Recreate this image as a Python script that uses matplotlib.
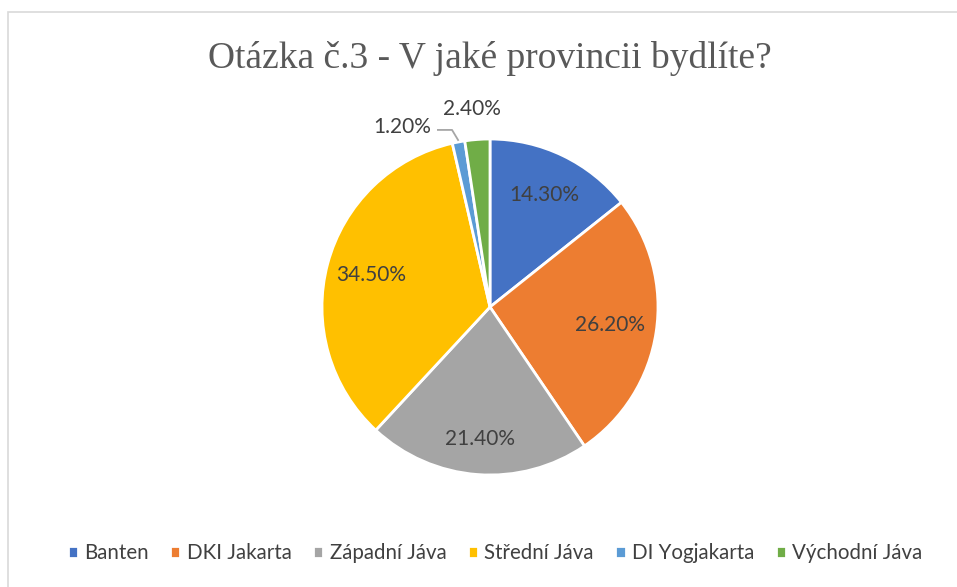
import matplotlib.pyplot as plt
from matplotlib.patches import Rectangle
import numpy as np

# Data
provincie = ["Banten", "DKI Jakarta", "Západní Jáva", "Střední Jáva", "DI Yogjakarta", "Východní Jáva"]
podily = [14.3, 26.2, 21.4, 34.5, 1.2, 2.4]
barvy = ["#4472C4", "#ED7D31", "#A5A5A5", "#FFC000", "#5B9BD5", "#70AD47"]
titulek = "Otázka č.3 - V jaké provincii bydlíte?"

W, H = 957, 587
fig = plt.figure(figsize=(W / 100, H / 100), dpi=100)

# light frame like the Excel chart area
fig.patches.append(Rectangle((8 / W, -0.1), 1.2, 1 - 12 / H + 0.1, transform=fig.transFigure,
                             fill=False, edgecolor="#D9D9D9", linewidth=1.2))

cx, cy, r = 490, 307, 168
ax = fig.add_axes([(cx - r) / W, 1 - (cy + r) / H, 2 * r / W, 2 * r / H])

wedges, _ = ax.pie(podily, colors=barvy, startangle=90, counterclock=False,
                   wedgeprops=dict(edgecolor="white", linewidth=2))
ax.set_xlim(-1, 1)
ax.set_ylim(-1, 1)

font = ["Lato", "DejaVu Sans"]
lab_col = "#404040"
fs = 15

# labels inside the big slices
vzdal = [0.74, 0.72, 0.79, 0.735]
for w, p, d in zip(wedges[:4], podily[:4], vzdal):
    a = np.deg2rad((w.theta1 + w.theta2) / 2)
    ax.text(d * np.cos(a), d * np.sin(a), f"{p:.2f}%", ha="center", va="center",
            fontsize=fs, color=lab_col, family=font)

# small slices: labels outside, leader line for the smallest one
ax.text(-0.52, 1.07, f"{podily[4]:.2f}%", ha="center", va="center",
        fontsize=fs, color=lab_col, family=font)
ax.plot([-0.31, -0.226, -0.19], [1.054, 1.054, 0.994], color="#A6A6A6", lw=1.3,
        clip_on=False)
ax.text(-0.11, 1.18, f"{podily[5]:.2f}%", ha="center", va="center",
        fontsize=fs, color=lab_col, family=font)

fig.text(490 / W, 1 - 58 / H, titulek, ha="center", va="center", fontsize=27,
         color="#595959", family="Liberation Serif")

fig.legend(wedges, provincie, loc="center", bbox_to_anchor=(495 / W, 1 - 553 / H), ncol=6,
           frameon=False, handlelength=0.5, handleheight=0.5, handletextpad=0.3,
           columnspacing=1.05, prop=dict(family=font, size=14.8), labelcolor=lab_col)

fig.savefig("out.png", dpi=100)
